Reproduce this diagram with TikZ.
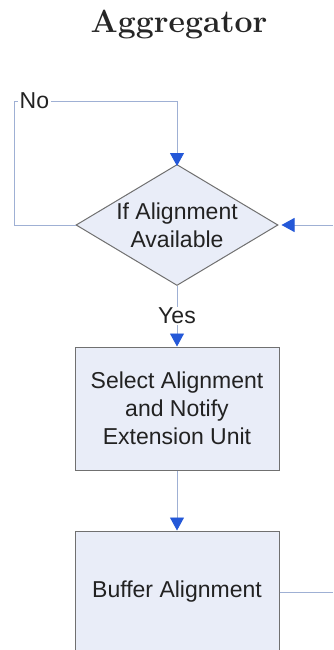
\documentclass[tikz,border=0pt]{standalone}
\usepackage{fontspec}
\setsansfont{Liberation Sans}
\usetikzlibrary{arrows.meta,shapes.geometric}
\definecolor{linkblue}{HTML}{9FB0D4}
\definecolor{tipblue}{HTML}{2458D8}
\definecolor{boxfill}{HTML}{E9EDF8}
\definecolor{boxedge}{HTML}{707070}
\definecolor{labeltext}{HTML}{222222}
\tikzset{
  flowtext/.style={font=\sffamily\fontsize{23}{28}\selectfont, text=labeltext, align=center},
  procbox/.style={draw=boxedge, line width=1pt, fill=boxfill, minimum width=204pt, minimum height=123pt, inner sep=0pt},
  decision/.style={diamond, draw=boxedge, line width=1pt, fill=boxfill, minimum width=202pt, minimum height=121pt, inner sep=0pt},
  link/.style={draw=linkblue, line width=0.9pt},
  linkarrow/.style={link, -{Triangle[length=13pt,width=14pt,color=tipblue]}},
  tag/.style={flowtext, fill=white, inner sep=1pt},
}
\begin{document}
\begin{tikzpicture}[x=1pt,y=-1pt]
  \useasboundingbox (0,0) rectangle (333,650);
  \clip (0,0) rectangle (333,650);
  \fill[white] (0,0) rectangle (333,650);

  % title
  \node[font=\bfseries\fontsize{32}{38}\selectfont, text=black!85, anchor=base] (title) at (179,33) {Aggregator};

  % shapes
  \node[decision] (dec) at (177,225) {};
  \node[flowtext] (dectext) at (dec) {If Alignment\\Available};
  \node[procbox] (sel) at (177,408.5) {};
  \node[flowtext] (seltext) at (sel) {Select Alignment\\and Notify\\Extension Unit};
  \node[procbox, minimum height=160pt] (buf) at (177,611) {};
  \node[flowtext] (buftext) at (177,592) {Buffer Alignment};

  % loose ends at the right margin and the loop corner
  \coordinate (loopcorner) at (14,101);
  \coordinate (rightin) at (333,225);
  \coordinate (rightout) at (333,592);

  % connectors
  \draw[linkarrow] (dec.west) -| (loopcorner) -| ([yshift=-2pt]dec.north);
  \node[tag, anchor=west, inner xsep=1.5pt] (no) at (18,101) {No};
  \draw[linkarrow] (rightin) -- ([xshift=3pt]dec.east);
  \draw[linkarrow] (dec.south) -- (sel.north);
  \node[tag] (yes) at (177,316) {Yes};
  \draw[linkarrow] (sel.south) -- (buf.north);
  \draw[link] (buf.east |- rightout) -- (rightout);
\end{tikzpicture}
\end{document}
